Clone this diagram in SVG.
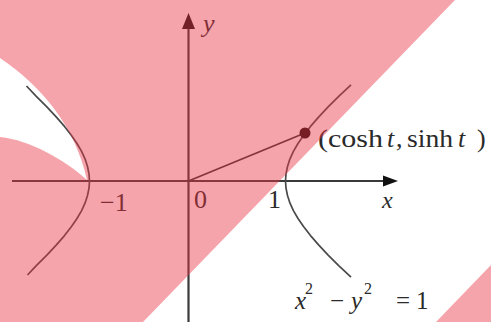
<svg xmlns="http://www.w3.org/2000/svg" width="491" height="322" viewBox="0 0 491 322">
<style>
.axis{stroke:#3a3a3a;stroke-width:2.2;fill:none}
.curve{stroke:#4a4a4a;stroke-width:1.7;fill:none;stroke-linejoin:round}
.ray{stroke:#333;stroke-width:1.7;fill:none}
.lbl{font-family:"Liberation Serif","Times New Roman",serif;fill:#2a2a2a}
.it{font-style:italic}
.overlay{fill:#E83545;fill-opacity:0.45}
</style>
<rect width="491" height="322" fill="#ffffff"/>
<g id="axes">
<line class="axis" x1="12" y1="181" x2="386" y2="181"/>
<polygon points="383,175.5 398,181 383,186.5" fill="#111"/>
<line class="axis" x1="188.5" y1="322" x2="188.5" y2="26"/>
<polygon points="182,29 188.5,13 195,29" fill="#111"/>
</g>
<g id="hyperbola" transform="translate(0.5,0)">
<polyline class="curve" points="350.5,84.8 338.2,96.4 327.4,107.1 318.1,117.1 310.0,126.4 303.2,135.2 297.5,143.5 292.9,151.4 289.4,159.1 287.0,166.5 285.5,173.8 285,181 285.5,188.2 287.0,195.5 289.4,202.9 292.9,210.6 297.5,218.5 303.2,226.8 310.0,235.6 318.1,244.9 327.4,254.9 338.2,265.6 350.5,277.2"/>
<polyline class="curve" points="26,86 35.8,96.4 46.6,107.1 55.9,117.1 64,126.4 70.8,135.2 76.5,143.5 81.1,151.4 84.6,159.1 87,166.5 88.5,173.8 89,181 88.5,188.2 87,195.5 84.6,202.9 81.1,210.6 76.5,218.5 70.8,226.8 64,235.6 55.9,244.9 46.6,254.9 35.8,265.6 27,275"/>
</g>
<g id="connectors">
<line class="ray" x1="188.5" y1="181" x2="305" y2="133"/>
</g>
<g id="point">
<circle cx="305" cy="133" r="5.5" fill="#1a0a0a"/>
</g>
<g id="labels" class="lbl">
<text class="lbl it" x="203" y="32" font-size="26">y</text>
<text class="lbl it" x="382" y="208" font-size="24">x</text>
<text class="lbl" x="100" y="211" font-size="26">−1</text>
<text class="lbl" x="194" y="208" font-size="26">0</text>
<text class="lbl" x="268" y="208" font-size="26">1</text>
<text class="lbl" y="147" font-size="26"><tspan x="318" textLength="65" lengthAdjust="spacingAndGlyphs">(cosh</tspan><tspan class="it" x="387">t</tspan><tspan x="396">,</tspan><tspan x="407" textLength="46" lengthAdjust="spacingAndGlyphs">sinh</tspan><tspan class="it" x="458">t</tspan><tspan x="477">)</tspan></text>
<text class="lbl" y="309" font-size="25"><tspan class="it" x="295">x</tspan><tspan x="305" y="294" font-size="16">2</tspan><tspan x="330" y="309">−</tspan><tspan class="it" x="351">y</tspan><tspan x="364" y="294" font-size="16">2</tspan><tspan x="396" y="309">=</tspan><tspan x="416">1</tspan></text>
</g>
<g id="overlay">
<path class="overlay" fill-rule="evenodd" d="M0,0 L455,0 L143,322 L0,322 Z M0,58 C40,85 75,125 87,180 C65,160 30,140 0,137 Z"/>
<polygon class="overlay" points="491,265 491,322 436,322"/>
</g>
</svg>
